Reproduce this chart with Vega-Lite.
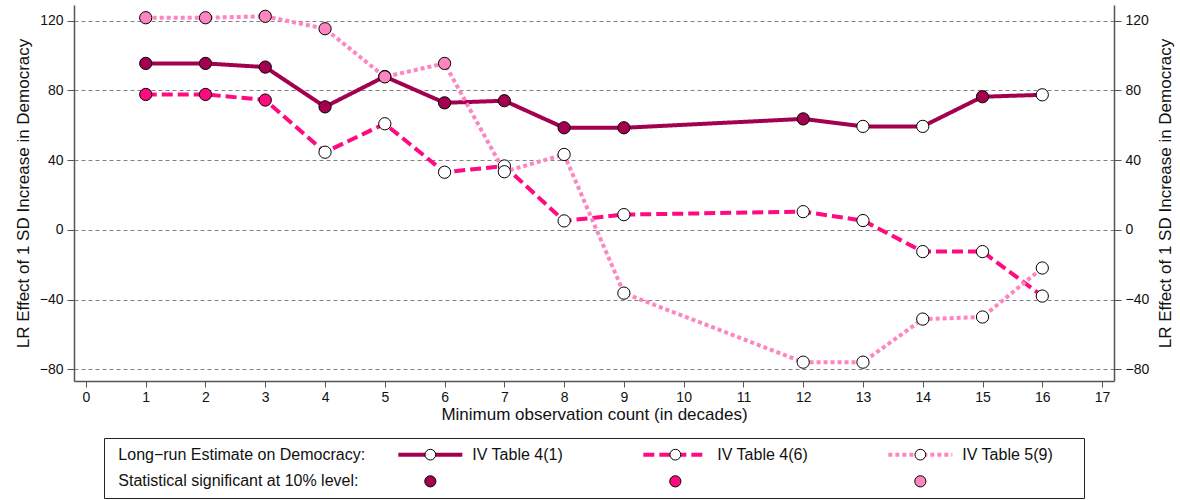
{
  "$schema": "https://vega.github.io/schema/vega-lite/v6.json",
  "padding": {"left": 14, "top": 5, "right": 5, "bottom": 1},
  "background": "white",
  "spacing": 57,
  "bounds": "flush",
  "center": true,
  "config": {
    "font": "Liberation Sans",
    "view": {"stroke": null},
    "axis": {
      "labelFont": "Liberation Sans",
      "titleFont": "Liberation Sans",
      "labelFontSize": 14,
      "titleFontSize": 17,
      "titleFontWeight": "normal",
      "labelColor": "#111111",
      "titleColor": "#111111",
      "domainColor": "#555555",
      "domainWidth": 1.5,
      "tickColor": "#555555",
      "tickWidth": 1
    }
  },
  "datasets": {
    "pts": [
      {"x": 1, "y": 95.5, "series": "IV Table 4(1)", "sig": true},
      {"x": 2, "y": 95.5, "series": "IV Table 4(1)", "sig": true},
      {"x": 3, "y": 93.4, "series": "IV Table 4(1)", "sig": true},
      {"x": 4, "y": 70.6, "series": "IV Table 4(1)", "sig": true},
      {"x": 5, "y": 88.0, "series": "IV Table 4(1)", "sig": true},
      {"x": 6, "y": 72.9, "series": "IV Table 4(1)", "sig": true},
      {"x": 7, "y": 74.1, "series": "IV Table 4(1)", "sig": true},
      {"x": 8, "y": 58.6, "series": "IV Table 4(1)", "sig": true},
      {"x": 9, "y": 58.6, "series": "IV Table 4(1)", "sig": true},
      {"x": 12, "y": 63.7, "series": "IV Table 4(1)", "sig": true},
      {"x": 13, "y": 59.4, "series": "IV Table 4(1)", "sig": false},
      {"x": 14, "y": 59.4, "series": "IV Table 4(1)", "sig": false},
      {"x": 15, "y": 76.4, "series": "IV Table 4(1)", "sig": true},
      {"x": 16, "y": 77.5, "series": "IV Table 4(1)", "sig": false},
      {"x": 1, "y": 77.7, "series": "IV Table 4(6)", "sig": true},
      {"x": 2, "y": 77.7, "series": "IV Table 4(6)", "sig": true},
      {"x": 3, "y": 74.5, "series": "IV Table 4(6)", "sig": true},
      {"x": 4, "y": 44.6, "series": "IV Table 4(6)", "sig": false},
      {"x": 5, "y": 60.9, "series": "IV Table 4(6)", "sig": false},
      {"x": 6, "y": 33.1, "series": "IV Table 4(6)", "sig": false},
      {"x": 7, "y": 36.7, "series": "IV Table 4(6)", "sig": false},
      {"x": 8, "y": 5.2, "series": "IV Table 4(6)", "sig": false},
      {"x": 9, "y": 8.8, "series": "IV Table 4(6)", "sig": false},
      {"x": 12, "y": 10.5, "series": "IV Table 4(6)", "sig": false},
      {"x": 13, "y": 5.4, "series": "IV Table 4(6)", "sig": false},
      {"x": 14, "y": -12.4, "series": "IV Table 4(6)", "sig": false},
      {"x": 15, "y": -12.4, "series": "IV Table 4(6)", "sig": false},
      {"x": 16, "y": -37.9, "series": "IV Table 4(6)", "sig": false},
      {"x": 1, "y": 121.7, "series": "IV Table 5(9)", "sig": true},
      {"x": 2, "y": 121.7, "series": "IV Table 5(9)", "sig": true},
      {"x": 3, "y": 122.5, "series": "IV Table 5(9)", "sig": true},
      {"x": 4, "y": 115.4, "series": "IV Table 5(9)", "sig": true},
      {"x": 5, "y": 87.8, "series": "IV Table 5(9)", "sig": true},
      {"x": 6, "y": 95.5, "series": "IV Table 5(9)", "sig": true},
      {"x": 7, "y": 33.4, "series": "IV Table 5(9)", "sig": false},
      {"x": 8, "y": 43.3, "series": "IV Table 5(9)", "sig": false},
      {"x": 9, "y": -36.2, "series": "IV Table 5(9)", "sig": false},
      {"x": 12, "y": -75.8, "series": "IV Table 5(9)", "sig": false},
      {"x": 13, "y": -75.8, "series": "IV Table 5(9)", "sig": false},
      {"x": 14, "y": -51.1, "series": "IV Table 5(9)", "sig": false},
      {"x": 15, "y": -49.9, "series": "IV Table 5(9)", "sig": false},
      {"x": 16, "y": -21.8, "series": "IV Table 5(9)", "sig": false}
    ],
    "legendSeries": [
      {"series": "IV Table 4(1)"},
      {"series": "IV Table 4(6)"},
      {"series": "IV Table 5(9)"}
    ],
    "legendRows": [
      {"row": "line", "label": "Long−run Estimate on Democracy:"},
      {"row": "dot", "label": "Statistical significant at 10% level:"}
    ]
  },
  "vconcat": [
    {
      "width": 1040,
      "height": 376,
      "data": {"name": "pts"},
      "encoding": {
        "x": {
          "field": "x",
          "type": "quantitative",
          "scale": {"domain": [-0.2, 17.2], "nice": false, "zero": false},
          "axis": {
            "values": [0, 1, 2, 3, 4, 5, 6, 7, 8, 9, 10, 11, 12, 13, 14, 15, 16, 17],
            "format": "d",
            "title": "Minimum observation count (in decades)",
            "grid": false,
            "tickSize": 6,
            "labelPadding": 3,
            "titlePadding": 2
          }
        }
      },
      "layer": [
        {
          "mark": {"type": "line", "strokeWidth": 4, "strokeCap": "butt"},
          "encoding": {
            "y": {
              "field": "y",
              "type": "quantitative",
              "scale": {"domain": [-86.6, 129], "nice": false, "zero": false},
              "axis": {
                "orient": "left",
                "values": [-80, -40, 0, 40, 80, 120],
                "title": "LR Effect of 1 SD Increase in Democracy",
                "grid": true,
                "gridDash": [4, 3],
                "gridColor": "#808080",
                "gridWidth": 1,
                "tickSize": 7,
                "labelPadding": 4,
                "titlePadding": 7
              }
            },
            "color": {
              "field": "series",
              "type": "nominal",
              "scale": {"domain": ["IV Table 4(1)", "IV Table 4(6)", "IV Table 5(9)"], "range": ["#a3004f", "#ff0a80", "#ff85c0"]},
              "legend": null
            },
            "strokeDash": {
              "field": "series",
              "type": "nominal",
              "scale": {"domain": ["IV Table 4(1)", "IV Table 4(6)", "IV Table 5(9)"], "range": [[1, 0], [11, 5], [4, 3]]},
              "legend": null
            }
          }
        },
        {
          "transform": [{"filter": "!datum.sig"}],
          "mark": {"type": "point", "shape": "circle", "filled": true, "fill": "white", "stroke": "black", "strokeWidth": 1, "size": 150, "opacity": 1},
          "encoding": {
            "y": {
              "field": "y",
              "type": "quantitative",
              "axis": {
                "orient": "right",
                "values": [-80, -40, 0, 40, 80, 120],
                "title": "LR Effect of 1 SD Increase in Democracy",
                "titleAngle": 270,
                "titleBaseline": "top",
                "grid": false,
                "tickSize": 7,
                "labelPadding": 4,
                "titlePadding": 9
              }
            }
          }
        },
        {
          "transform": [{"filter": "datum.sig"}],
          "mark": {"type": "circle", "stroke": "black", "strokeWidth": 1, "size": 150, "opacity": 1},
          "encoding": {
            "y": {"field": "y", "type": "quantitative", "axis": null},
            "color": {"field": "series", "type": "nominal", "legend": null}
          }
        }
      ],
      "resolve": {"scale": {"y": "shared"}, "axis": {"y": "independent"}}
    },
    {
      "width": 980,
      "height": 60,
      "view": {"stroke": "#222222", "strokeWidth": 1, "fill": "white"},
      "layer": [
        {
          "data": {"name": "legendSeries"},
          "mark": {"type": "rule", "strokeWidth": 4, "strokeCap": "butt", "xOffset": -32, "x2Offset": 32},
          "encoding": {
            "x": {
              "field": "series",
              "type": "nominal",
              "scale": {"type": "point", "domain": ["IV Table 4(1)", "IV Table 4(6)", "IV Table 5(9)"], "padding": 1.0165, "align": 0.666},
              "axis": null
            },
            "x2": {"field": "series"},
            "y": {
              "datum": "line",
              "type": "nominal",
              "scale": {"type": "point", "domain": ["line", "dot"], "padding": 0.625},
              "axis": null
            },
            "color": {
              "field": "series",
              "type": "nominal",
              "scale": {"domain": ["IV Table 4(1)", "IV Table 4(6)", "IV Table 5(9)"], "range": ["#a3004f", "#ff0a80", "#ff85c0"]},
              "legend": null
            },
            "strokeDash": {
              "field": "series",
              "type": "nominal",
              "scale": {"domain": ["IV Table 4(1)", "IV Table 4(6)", "IV Table 5(9)"], "range": [[1, 0], [11, 5], [4, 3]]},
              "legend": null
            }
          }
        },
        {
          "data": {"name": "legendSeries"},
          "mark": {"type": "point", "shape": "circle", "filled": true, "fill": "white", "stroke": "black", "strokeWidth": 1, "size": 115, "opacity": 1},
          "encoding": {
            "x": {"field": "series", "type": "nominal"},
            "y": {"datum": "line", "type": "nominal"}
          }
        },
        {
          "data": {"name": "legendSeries"},
          "mark": {"type": "text", "align": "left", "baseline": "middle", "fontSize": 16, "dx": 42, "color": "#111111"},
          "encoding": {
            "x": {"field": "series", "type": "nominal"},
            "y": {"datum": "line", "type": "nominal"},
            "text": {"field": "series"}
          }
        },
        {
          "data": {"name": "legendSeries"},
          "mark": {"type": "circle", "stroke": "black", "strokeWidth": 1, "size": 125, "opacity": 1},
          "encoding": {
            "x": {"field": "series", "type": "nominal"},
            "y": {"datum": "dot", "type": "nominal"},
            "color": {"field": "series", "type": "nominal", "legend": null}
          }
        },
        {
          "data": {"name": "legendRows"},
          "mark": {"type": "text", "align": "left", "baseline": "middle", "fontSize": 16, "dx": -312, "color": "#111111"},
          "encoding": {
            "x": {"datum": "IV Table 4(1)", "type": "nominal"},
            "y": {"field": "row", "type": "nominal"},
            "text": {"field": "label"}
          }
        }
      ]
    }
  ]
}
